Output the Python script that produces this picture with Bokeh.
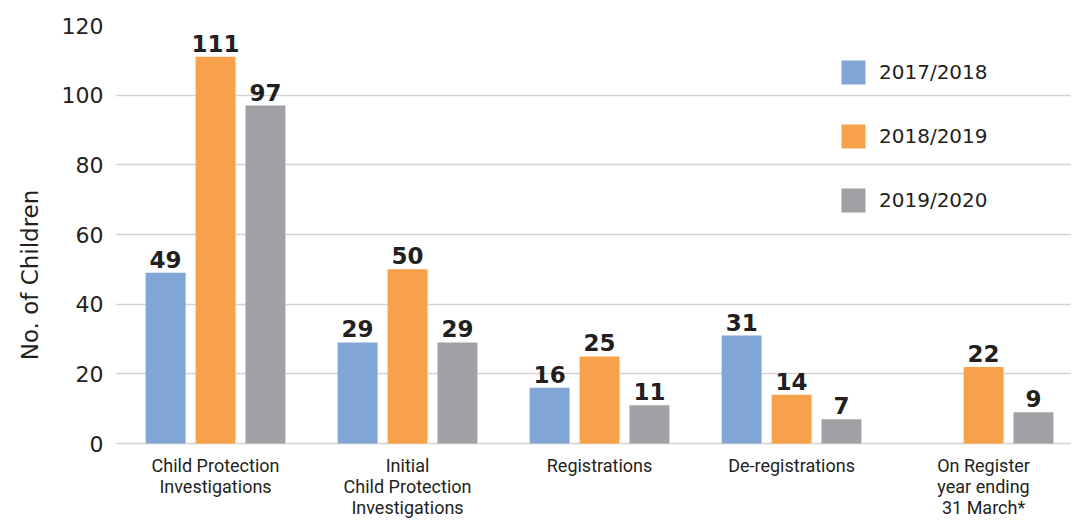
from bokeh.plotting import figure
from bokeh.models import (Range1d, ColumnDataSource, Legend, LegendItem, FixedTicker)
from bokeh.core.properties import value
from bokeh.embed import file_html
from bokeh.resources import INLINE

categories = ["Child Protection\nInvestigations",
              "Initial\nChild Protection\nInvestigations",
              "Registrations",
              "De-registrations",
              "On Register\nyear ending\n31 March*"]
series_names = ["2017/2018", "2018/2019", "2019/2020"]
v2017 = [49, 29, 16, 31, None]
v2018 = [111, 50, 25, 14, 22]
v2019 = [97, 29, 11, 7, 9]
y_ticks = [0, 20, 40, 60, 80, 100, 120]

colors = ["#81a6d6", "#f7a14a", "#a0a1a5"]
offsets = [-0.26, 0.0, 0.26]
series = [v2017, v2018, v2019]

FONT = "DejaVu Sans"
TXT = "#231f20"

p = figure(width=1071, height=524, x_range=Range1d(-0.521, 4.458),
           y_range=Range1d(-23.25, 120), output_backend="svg", toolbar_location=None,
           min_border_left=115, min_border_right=0, min_border_top=25, min_border_bottom=0)
p.outline_line_color = None
p.xgrid.grid_line_color = None
p.ygrid.grid_line_color = "#d4d4d4"
p.ygrid.grid_line_width = 1.5
p.ygrid.ticker = FixedTicker(ticks=y_ticks)
p.xaxis.visible = False

idx = list(range(len(categories)))
items = []
for name, vals, col, off in zip(series_names, series, colors, offsets):
    xs = [i + off for i, v in zip(idx, vals) if v is not None]
    ys = [v for v in vals if v is not None]
    src = ColumnDataSource(dict(x=xs, top=ys, lab=[str(v) for v in ys]))
    r = p.vbar(x="x", top="top", width=0.208, source=src,
               fill_color=col, line_color=None)
    p.text(x="x", y="top", text="lab", source=src,
           text_align="center", text_baseline="bottom", y_offset=-5,
           text_font=value(FONT), text_font_style="bold", text_font_size="23px",
           text_color=TXT)
    items.append(LegendItem(label=name, renderers=[r]))

cat_src = ColumnDataSource(dict(x=idx, y=[0] * len(idx), t=categories))
p.text(x="x", y="y", text="t", source=cat_src, y_offset=11,
       text_align="center", text_baseline="top",
       text_font=value("Roboto"), text_font_size="18px", text_color=TXT,
       text_line_height=1.02)

legend = Legend(items=items, location=(723, 309), orientation="vertical",
                glyph_width=30, glyph_height=30, label_height=30, spacing=34,
                label_standoff=11, padding=0, margin=0,
                border_line_color=None, background_fill_alpha=0,
                label_text_font=FONT, label_text_font_size="20px", label_text_color=TXT)
p.add_layout(legend, "center")

p.yaxis.ticker = FixedTicker(ticks=y_ticks)
p.yaxis.axis_line_color = None
p.yaxis.major_tick_line_color = None
p.yaxis.minor_tick_line_color = None
p.yaxis.major_tick_out = 0
p.yaxis.major_tick_in = 0
p.yaxis.major_label_text_font = FONT
p.yaxis.major_label_text_font_size = "22px"
p.yaxis.major_label_text_color = TXT
p.yaxis.major_label_standoff = 12
p.yaxis.axis_label = "No. of Children"
p.yaxis.axis_label_text_font = FONT
p.yaxis.axis_label_text_font_size = "23px"
p.yaxis.axis_label_text_font_style = "normal"
p.yaxis.axis_label_text_color = TXT
p.yaxis.axis_label_standoff = 16

open("out.html", "w").write(file_html(p, INLINE))
